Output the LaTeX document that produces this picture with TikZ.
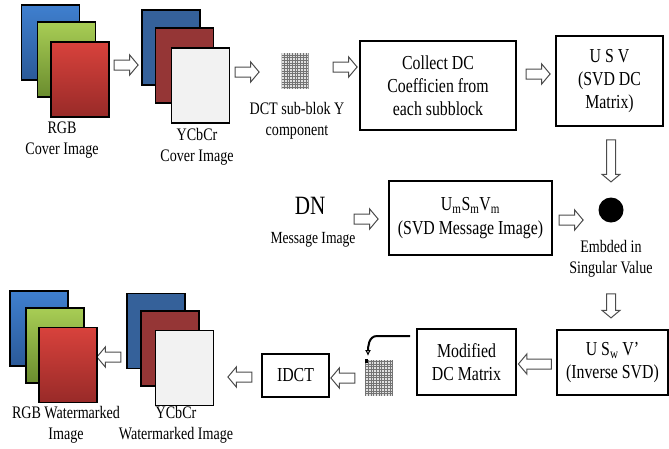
\documentclass[tikz,border=0pt]{standalone}
\usepackage{fontspec}
\setmainfont{Liberation Serif}[FakeStretch=0.8]
\usetikzlibrary{shapes.arrows,arrows.meta}
\definecolor{bluetop}{HTML}{3F7FCF}
\definecolor{bluebot}{HTML}{2B5A98}
\definecolor{greentop}{HTML}{A8CD55}
\definecolor{greenbot}{HTML}{6A8C2E}
\definecolor{redtop}{HTML}{D8423C}
\definecolor{redbot}{HTML}{982A28}
\definecolor{ydblue}{HTML}{35619A}
\definecolor{ydred}{HTML}{953636}
\definecolor{ywhite}{HTML}{F2F2F2}
\begin{document}
\begin{tikzpicture}[x=1pt,y=-1pt,
  box/.style={draw=black, line width=1.3pt, fill=white, inner sep=0pt, align=center, font=\fontsize{19.8}{22.8}\selectfont},
  harrow/.style={single arrow, draw=black!70, fill=white, line width=1pt, minimum height=24pt, inner sep=4.5pt, single arrow head extend=5pt, single arrow tip angle=100},
  larrow/.style={harrow, shape border rotate=180},
  darrow/.style={harrow, shape border rotate=270, inner sep=4pt, single arrow head extend=4.5pt},
  lbl/.style={font=\fontsize{17.6}{21}\selectfont, align=center, inner sep=0pt},
  layer/.style={draw=black, line width=1.1pt, minimum width=58pt, minimum height=75pt, inner sep=0pt},
  blayer/.style={layer, top color=bluetop, bottom color=bluebot},
  glayer/.style={layer, top color=greentop, bottom color=greenbot},
  rlayer/.style={layer, top color=redtop, bottom color=redbot},
  yblue/.style={layer, fill=ydblue},
  yred/.style={layer, fill=ydred},
  ywh/.style={layer, fill=ywhite},
  gridicon/.style={minimum width=27pt, minimum height=36pt, inner sep=0pt, fill=black!12,
    path picture={\draw[black!55, line width=0.6pt, step=2.7pt] (path picture bounding box.south west) grid (path picture bounding box.north east);}}
]
\useasboundingbox (0,0) rectangle (669,448);

% RGB cover image stack
\node[blayer] (rgbB) at (50.5,42.5) {};
\node[glayer] (rgbG) at (66.5,59.5) {};
\node[rlayer] (rgbR) at (80,79.5) {};
\node[lbl] (rgblbl) at (62,140) {RGB\\Cover Image};

\node[harrow] (a1) at (124,65) {};

% YCbCr cover image stack
\node[yblue] (ycB) at (171,47.5) {};
\node[yred] (ycR) at (184.5,65.5) {};
\node[ywh] (ycW) at (200.5,85.5) {};
\node[lbl] (yclbl) at (197,147) {YCbCr\\Cover Image};

\node[harrow] (a2) at (245,72) {};

% DCT grid
\node[gridicon] (grid1) at (295,71) {};
\node[lbl] (dctlbl) at (297,120.5) {DCT sub-blok Y\\component};

\node[harrow] (a3) at (343,67) {};

\node[box, minimum width=156pt, minimum height=89pt] (collect) at (438,85.5) {Collect DC\\Coefficien from\\each subblock};

\node[harrow] (a4) at (536,74) {};

\node[box, minimum width=107pt, minimum height=90pt] (usv) at (609.5,81) {U S V\\(SVD DC\\Matrix)};

\node[darrow, minimum height=42pt] (d1) at (611,159) {};

% message row
\node[inner sep=0pt, font=\fontsize{26.4}{28}\selectfont] (dn) at (310,206) {DN};
\node[lbl, font=\fontsize{17}{19}\selectfont] (msglbl) at (313,240) {Message Image};

\node[harrow] (a5) at (364,219) {};

\node[box, minimum width=163pt, minimum height=74pt] (svdmsg) at (470.5,218) {U\textsubscript{m}S\textsubscript{m}V\textsubscript{m}\\[1pt](SVD Message Image)};

\node[harrow] (a6) at (569,220) {};

\node[circle, fill=black, minimum size=25pt, inner sep=0pt] (emb) at (611,210) {};
\node[lbl] (emblbl) at (611,259) {Embded in\\Singular Value};

\node[darrow, minimum height=24pt] (d2) at (611,304) {};

% bottom row
\node[box, minimum width=111pt, minimum height=65pt] (isvd) at (612.5,362.5) {U S\textsubscript{w} V’\\(Inverse SVD)};

\node[larrow, minimum height=33pt] (a7) at (537,364) {};

\node[box, minimum width=99pt, minimum height=66pt] (moddc) at (466.5,362) {Modified\\DC Matrix};

\node[gridicon, minimum width=28pt] (grid2) at (379,377.5) {};
\fill[black] (grid2.north west) rectangle ++(3.5,4);

\coordinate (cs) at (410,336);
\coordinate (ce) at (368,356);
\draw[line width=2pt, -{Latex[open,length=6pt,width=6pt,line width=1pt]}] (cs) -- (377,336) to[out=180,in=90] (ce);

\node[larrow] (a8) at (345,378) {};

\node[box, minimum width=67pt, minimum height=43pt] (idct) at (295.5,375.5) {IDCT};

\node[larrow] (a9) at (242,377) {};

% YCbCr watermarked stack
\node[yblue] (ywB) at (156,331) {};
\node[yred] (ywR) at (170,348.5) {};
\node[lbl] (ywlbl) at (176,425) {YCbCr\\Watermarked Image};
\node[ywh] (ywW) at (184.5,368) {};

\node[larrow] (a10) at (111,357) {};

% RGB watermarked stack
\node[blayer] (rwB) at (39,328.5) {};
\node[glayer] (rwG) at (55,345.5) {};
\node[rlayer] (rwR) at (68,365) {};
\node[lbl] (rwlbl) at (66,425) {RGB Watermarked\\Image};

\end{tikzpicture}
\end{document}
